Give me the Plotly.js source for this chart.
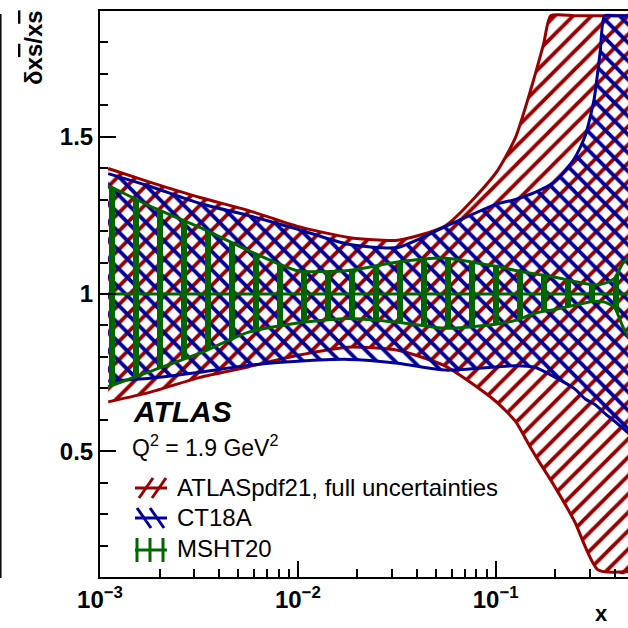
<!DOCTYPE html>
<html>
<head>
<meta charset="utf-8">
<script src="https://cdn.plot.ly/plotly-3.0.1.min.js"></script>
<style>html,body{margin:0;padding:0;background:#fff;}#chart{width:628px;height:628px;}</style>
</head>
<body>
<div id="chart"></div>
<script>
// ---- data (ratio to central value) ----
const atlasX     = [0.0011, 0.0018, 0.0032, 0.0056, 0.01, 0.018, 0.032, 0.056, 0.1, 0.126, 0.15, 0.175, 0.19, 0.25, 0.33, 0.55];
const atlasUpper = [1.399, 1.355, 1.307, 1.266, 1.215, 1.180, 1.171, 1.218, 1.384, 1.498, 1.647, 1.797, 1.885, 1.885, 1.885, 1.885];
const atlasLower = [0.657, 0.688, 0.735, 0.768, 0.805, 0.831, 0.821, 0.770, 0.659, 0.595, 0.512, 0.443, 0.408, 0.278, 0.122, 0.122];

const ct18X      = [0.0011, 0.0018, 0.0032, 0.0056, 0.01, 0.018, 0.032, 0.056, 0.1, 0.126, 0.158, 0.2, 0.25, 0.284, 0.315, 0.338, 0.355, 0.398, 0.47, 0.54];
const ct18Upper  = [1.383, 1.342, 1.288, 1.250, 1.206, 1.158, 1.148, 1.215, 1.285, 1.301, 1.323, 1.358, 1.431, 1.504, 1.622, 1.774, 1.885, 1.885, 1.885, 1.885];
const ct18Lower  = [0.723, 0.732, 0.751, 0.773, 0.786, 0.792, 0.780, 0.758, 0.768, 0.772, 0.767, 0.735, 0.699, 0.666, 0.650, 0.634, 0.621, 0.596, 0.557, 0.520];

const mshtX      = [0.0011, 0.0018, 0.0032, 0.0056, 0.01, 0.018, 0.032, 0.056, 0.1, 0.126, 0.158, 0.2, 0.25, 0.315, 0.355, 0.398, 0.44, 0.47, 0.54];
const mshtUpper  = [1.345, 1.279, 1.212, 1.139, 1.074, 1.075, 1.102, 1.114, 1.088, 1.075, 1.064, 1.053, 1.040, 1.029, 1.034, 1.050, 1.098, 1.117, 1.160];
const mshtLower  = [0.705, 0.754, 0.812, 0.878, 0.908, 0.922, 0.910, 0.891, 0.904, 0.916, 0.939, 0.951, 0.964, 0.977, 0.974, 0.958, 0.895, 0.863, 0.820];

const centralX     = [0.0011, 0.54];
const centralRatio = [1, 1];

const seriesNames = ["ATLASpdf21, full uncertainties", "CT18A", "MSHT20"];
const xTickVals = [0.001, 0.01, 0.1];
const xTickText = ["10<sup>−3</sup>", "10<sup>−2</sup>", "10<sup>−1</sup>"];
const yTickVals = [0.5, 1, 1.5];
const yTickText = ["0.5", "1", "1.5"];

// ---- styling ----
const RED = "#990000", BLUE = "#000099", GREEN = "#006600";
const FONT = "Liberation Sans, Arial, Helvetica, sans-serif";

function band(x, up, lo, color, shape, size, solidity, name) {
  const px = x.concat(x.slice().reverse());
  const py = up.concat(lo.slice().reverse());
  return [
    {x: px, y: py, type: "scatter", mode: "lines", fill: "toself", name: name,
     fillcolor: "rgba(0,0,0,0)", line: {width: 0, shape: "spline", smoothing: 0.6},
     fillpattern: {shape: shape, fgcolor: color, bgcolor: "rgba(0,0,0,0)", size: size, solidity: solidity},
     hoverinfo: "skip", showlegend: false},
    {x: x, y: up, type: "scatter", mode: "lines", line: {color: color, width: 3, shape: "spline", smoothing: 0.6}, showlegend: false, hoverinfo: "skip"},
    {x: x, y: lo, type: "scatter", mode: "lines", line: {color: color, width: 3, shape: "spline", smoothing: 0.6}, showlegend: false, hoverinfo: "skip"}
  ];
}

const traces = []
  .concat(band(atlasX, atlasUpper, atlasLower, RED, "/", 13, 0.3, seriesNames[0]))
  .concat(band(ct18X, ct18Upper, ct18Lower, BLUE, "\\", 13, 0.3, seriesNames[1]))
  .concat(band(mshtX, mshtUpper, mshtLower, GREEN, "|", 24, 0.25, seriesNames[2]))
  .concat([{x: centralX, y: centralRatio, type: "scatter", mode: "lines", line: {color: GREEN, width: 3}, showlegend: false, hoverinfo: "skip"}]);

// pixel -> paper helpers (plot area: x 100..628, y 11..577)
const L = 100, R = 628, T = 11, B = 577;
const PX = p => (p - L) / (R - L);
const PY = p => (B - p) / (B - T);
function seg(x0, y0, x1, y1, color, w) {
  return {type: "line", xref: "paper", yref: "paper", x0: PX(x0), y0: PY(y0), x1: PX(x1), y1: PY(y1),
          line: {color: color, width: w || 3}};
}

const shapes = [
  // red legend icon
  seg(135, 488, 167, 488, RED), seg(139, 498, 153, 478, RED), seg(152, 498, 166, 478, RED),
  // blue legend icon
  seg(135, 518, 167, 518, BLUE), seg(137, 508, 151, 528, BLUE), seg(150, 508, 164, 528, BLUE),
  // green legend icon
  seg(135, 550, 167, 550, GREEN), seg(137, 538, 137, 562, GREEN), seg(150, 538, 150, 562, GREEN), seg(163, 538, 163, 562, GREEN),
  // thin frame remnant at far left
  seg(0.8, 14, 0.8, 578, "#000", 1.5)
];

function ann(text, x, y, size, opts) {
  return Object.assign({text: text, xref: "paper", yref: "paper", x: PX(x), y: PY(y), showarrow: false,
    xanchor: "left", yanchor: "middle", font: {family: FONT, size: size, color: "#000"}}, opts || {});
}

const OV = "<span style='text-decoration:overline'>s</span>";
const annotations = [
  ann("<b><i>ATLAS</i></b>", 131, 412, 30),
  ann("Q<sup>2</sup> = 1.9 GeV<sup>2</sup>", 130, 446, 23),
  ann(seriesNames[0], 175, 487, 24),
  ann(seriesNames[1], 175, 517, 24),
  ann(seriesNames[2], 175, 548, 24),
  ann("<b>x</b>", 601, 613, 22, {xanchor: "center"}),
  ann("<b>δx" + OV + "/x" + OV + "</b>", 33, 48, 24, {xanchor: "center", textangle: -90})
];

const axisCommon = {
  showgrid: false, zeroline: false, showline: true, linecolor: "#000", linewidth: 2,
  ticks: "inside", ticklen: 16, tickwidth: 2, tickcolor: "#000",
  tickfont: {family: FONT, size: 24, color: "#000", weight: "bold"}
};

const layout = {
  width: 628, height: 628,
  margin: {l: L, r: 0, t: T, b: 628 - B},
  paper_bgcolor: "#fff", plot_bgcolor: "#fff",
  showlegend: false,
  xaxis: Object.assign({}, axisCommon, {
    type: "log", range: [-3, -0.331], mirror: true,
    tickmode: "array", tickvals: xTickVals, ticktext: xTickText,
    minor: {tickmode: "array", tickvals: [0.002,0.003,0.004,0.005,0.006,0.007,0.008,0.009,0.02,0.03,0.04,0.05,0.06,0.07,0.08,0.09,0.2,0.3,0.4],
            ticks: "inside", ticklen: 8, tickwidth: 2, tickcolor: "#000", showgrid: false}
  }),
  yaxis: Object.assign({}, axisCommon, {
    range: [0.1, 1.9],
    tickmode: "array", tickvals: yTickVals, ticktext: yTickText,
    minor: {dtick: 0.1, tick0: 0, ticks: "inside", ticklen: 8, tickwidth: 2, tickcolor: "#000", showgrid: false}
  }),
  shapes: shapes,
  annotations: annotations
};

Plotly.newPlot("chart", traces, layout, {staticPlot: true, displayModeBar: false});
</script>
</body>
</html>
